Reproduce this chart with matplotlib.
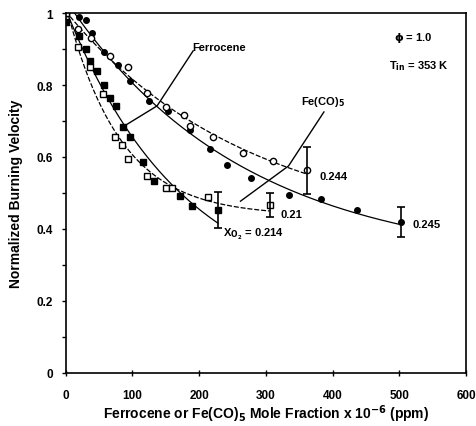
import numpy as np
import matplotlib
matplotlib.use('Agg')
import matplotlib.pyplot as plt

plt.rcParams['font.family'] = ['Liberation Sans', 'DejaVu Sans']
plt.rcParams['font.weight'] = 'bold'
plt.rcParams['mathtext.default'] = 'bf'

# ---- data ----
# ferrocene, X_O2 = 0.245 (filled circles)
fc_x = [0, 20, 30, 39, 58, 78, 97, 125, 154, 187, 217, 242, 277, 334, 382, 437, 503]
fc_y = [1.0, 0.99, 0.98, 0.945, 0.892, 0.857, 0.811, 0.756, 0.728, 0.675, 0.622, 0.577, 0.541, 0.495, 0.484, 0.452, 0.419]
fc_err = 0.042

# Fe(CO)5, X_O2 = 0.244 (open circles)
oc_x = [0, 18, 38, 66, 94, 122, 150, 178, 187, 221, 266, 310, 361]
oc_y = [1.0, 0.956, 0.93, 0.88, 0.85, 0.778, 0.74, 0.717, 0.685, 0.656, 0.611, 0.589, 0.563]
oc_err = 0.066

# ferrocene, X_O2 = 0.214 (filled squares)
fs_x = [0, 0, 20, 30, 37, 47, 58, 67, 75, 86, 96, 116, 133, 172, 190, 228]
fs_y = [1.0, 0.975, 0.937, 0.9, 0.868, 0.84, 0.80, 0.764, 0.742, 0.684, 0.656, 0.586, 0.533, 0.492, 0.464, 0.452]
fs_err = 0.05

# Fe(CO)5, X_O2 = 0.21 (open squares)
os_x = [0, 18, 36, 56, 74, 84, 93, 122, 150, 160, 214, 306]
os_y = [1.0, 0.905, 0.85, 0.776, 0.656, 0.632, 0.593, 0.548, 0.514, 0.514, 0.489, 0.466]
os_err = 0.034


def decay_fit(x, y):
    # y = a + b*exp(-x/t), best t by scan, a and b by least squares
    x = np.asarray(x, float)
    y = np.asarray(y, float)
    best = None
    for t in np.linspace(20, 800, 400):
        A = np.column_stack([np.ones_like(x), np.exp(-x / t)])
        coef, res, _, _ = np.linalg.lstsq(A, y, rcond=None)
        r = np.sum((A @ coef - y) ** 2)
        if best is None or r < best[0]:
            best = (r, t, coef)
    _, t, coef = best
    xs = np.linspace(0, x.max(), 200)
    return xs, coef[0] + coef[1] * np.exp(-xs / t)


fig = plt.figure(figsize=(4.77, 4.27), dpi=100)
ax = fig.add_axes([0.1377, 0.1248, 0.8393, 0.8422])

for xs_, ys_, ls in [(fc_x, fc_y, '-'), (oc_x, oc_y, (0, (4, 1.5))),
                     (fs_x, fs_y, '-'), (os_x, os_y, (0, (4, 1.5)))]:
    xx, yy = decay_fit(xs_, ys_)
    ax.plot(xx, yy, color='black', lw=0.9, ls=ls)

ms = 4
ax.plot(fc_x, fc_y, 'o', ms=ms, mfc='black', mec='black', ls='none')
ax.plot(oc_x, oc_y, 'o', ms=ms + 0.5, mfc='white', mec='black', mew=1.0, ls='none')
ax.plot(fs_x, fs_y, 's', ms=ms, mfc='black', mec='black', ls='none')
ax.plot(os_x, os_y, 's', ms=ms + 0.5, mfc='white', mec='black', mew=1.0, ls='none')

# error bars on last points
for xv, yv, e in [(fc_x[-1], fc_y[-1], fc_err), (oc_x[-1], oc_y[-1], oc_err),
                  (fs_x[-1], fs_y[-1], fs_err), (os_x[-1], os_y[-1], os_err)]:
    ax.errorbar(xv, yv, yerr=e, fmt='none', ecolor='black', elinewidth=1.2, capsize=3, capthick=1.2)

# pointer lines
ax.plot([191, 137, 86], [0.895, 0.742, 0.684], color='black', lw=1.0)
ax.plot([387, 334, 262], [0.725, 0.575, 0.477], color='black', lw=1.0)

fs = 8
ax.text(190, 0.906, 'Ferrocene', fontsize=fs, ha='left', va='center')
ax.text(352, 0.756, 'Fe(CO)$_5$', fontsize=fs, ha='left', va='center')
ax.text(492, 0.934, '$\\phi$ = 1.0', fontsize=fs, ha='left', va='center')
ax.text(485, 0.856, 'T$_{in}$ = 353 K', fontsize=fs, ha='left', va='center')
ax.text(380, 0.547, '0.244', fontsize=fs, ha='left', va='center')
ax.text(322, 0.44, '0.21', fontsize=fs, ha='left', va='center')
ax.text(520, 0.413, '0.245', fontsize=fs, ha='left', va='center')
ax.text(236, 0.386, 'X$_{O_2}$ = 0.214', fontsize=fs, ha='left', va='center')

ax.set_xlim(0, 600)
ax.set_ylim(0, 1)
ax.set_xticks(np.arange(0, 601, 100))
ax.set_yticks([0, 0.2, 0.4, 0.6, 0.8, 1.0])
ax.set_yticklabels(['0', '0.2', '0.4', '0.6', '0.8', '1'])
ax.set_yticks(np.arange(0.1, 1.0, 0.2), minor=True)
ax.tick_params(axis='y', which='both', direction='out', length=3, width=1, labelsize=8.5, pad=6)
ax.tick_params(axis='x', which='both', direction='inout', length=4, width=1, labelsize=8.5, pad=10)
for s in ax.spines.values():
    s.set_linewidth(1.2)

ax.set_xlabel('Ferrocene or Fe(CO)$_5$ Mole Fraction x 10$^{-6}$ (ppm)', fontsize=10,
              fontweight='bold', va='center')
ax.xaxis.set_label_coords(0.5, -0.113)
ax.set_ylabel('Normalized Burning Velocity', fontsize=10, fontweight='bold', labelpad=10)

plt.savefig('out.png', dpi=100)
